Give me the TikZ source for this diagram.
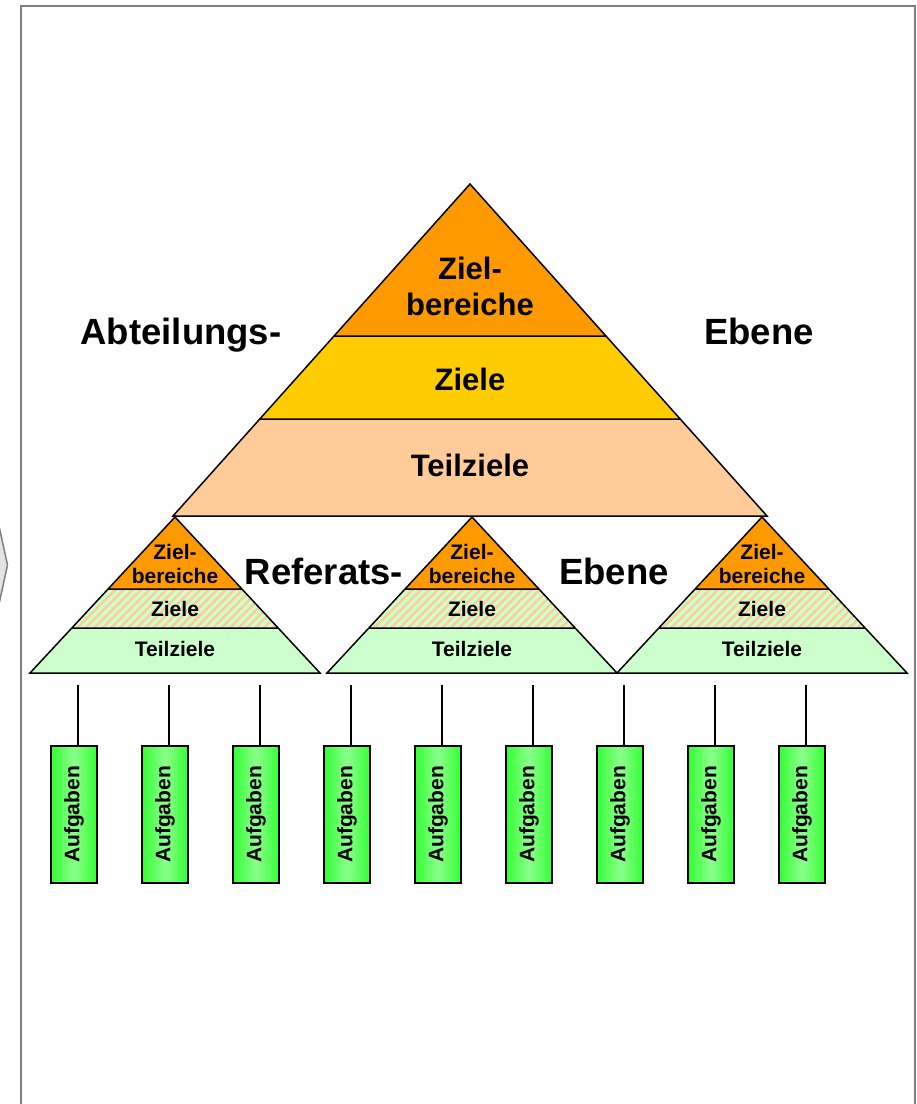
\documentclass[tikz,border=0pt]{standalone}
\usepackage{fontspec}
\setmainfont{Liberation Sans}
\usetikzlibrary{positioning,patterns.meta}
\definecolor{zielorange}{RGB}{255,153,0}
\definecolor{zielgelb}{RGB}{255,204,0}
\definecolor{teilpfirsich}{RGB}{255,204,153}
\definecolor{teilgruen}{RGB}{204,255,204}
\definecolor{aufgruen}{RGB}{51,255,51}
\definecolor{aufhell}{RGB}{140,255,140}
\definecolor{rahmengrau}{RGB}{128,128,128}
\tikzset{
	outline/.style={draw=black, line width=1.5pt, line join=miter},
	streifen/.style={
		fill=teilgruen,
		postaction={pattern={Lines[angle=45,distance=6pt,line width=2.5pt]}, pattern color=teilpfirsich}
	},
	bigtext/.style={font=\fontsize{31}{36}\selectfont\bfseries, align=center},
	smalltext/.style={font=\fontsize{21}{24}\selectfont\bfseries, align=center},
	ebene/.style={font=\fontsize{36.5}{40}\selectfont\bfseries, anchor=base},
	aufgabe/.style={
		draw=black, line width=1.5pt, outer sep=0pt, inner sep=0pt,
		minimum width=46pt, minimum height=137pt,
		left color=aufgruen, right color=aufgruen, middle color=aufhell,
		font=\fontsize{21}{24}\selectfont\bfseries
	},
	haenger/.style={draw=black, line width=1.5pt},
	smallpyramid/.pic={
		\fill[zielorange] (0,0) -- (-67,72) -- (67,72) -- cycle;
		\fill[streifen] (-67,72) -- (-103,111) -- (103,111) -- (67,72) -- cycle;
		\fill[teilgruen] (-103,111) -- (-145,156) -- (145,156) -- (103,111) -- cycle;
		\draw[outline] (0,0) -- (-145,156) -- (145,156) -- cycle
			(-67,72) -- (67,72) (-103,111) -- (103,111);
		\node[smalltext] (-top) at (0,47) {Ziel-\\bereiche};
		\node[smalltext] (-mid) at (0,92) {Ziele};
		\node[smalltext] (-low) at (0,132) {Teilziele};
	}
}

\begin{document}
\begin{tikzpicture}[x=1pt, y=-1pt, node distance=45pt]
	\useasboundingbox (0,0) rectangle (917,1104);
	% frame and side tab
	\filldraw[fill=gray!22, draw=rahmengrau, line width=1.5pt] (-4,512) -- (7.5,565) -- (-4,618) -- cycle;
	\draw[rahmengrau, line width=2pt] (21,1110) -- (21,6) -- (915,6) -- (915,1110);
	% Abteilungs-Ebene
	\fill[zielorange] (470,184) -- (334,336) -- (606,336) -- cycle;
	\fill[zielgelb] (334,336) -- (260,419) -- (680,419) -- (606,336) -- cycle;
	\fill[teilpfirsich] (260,419) -- (173,516) -- (767,516) -- (680,419) -- cycle;
	\draw[outline] (470,184) -- (173,516) -- (767,516) -- cycle
		(334,336) -- (606,336) (260,419) -- (680,419);
	\node[bigtext] (Zb) at (470,286) {Ziel-\\bereiche};
	\node[bigtext] (Zl) at (470,379) {Ziele};
	\node[bigtext] (Tz) at (470,465) {Teilziele};
	\node[ebene] (abt) at (181,344) {Abteilungs-};
	\node[ebene] (abtE) at (759,344) {Ebene};
	% Referats-Ebene
	\pic (R1) at (175,517) {smallpyramid};
	\pic (R2) at (472,517) {smallpyramid};
	\pic (R3) at (762,517) {smallpyramid};
	\node[ebene] (ref) at (324,584) {Referats-};
	\node[ebene] (refE) at (614,584) {Ebene};
	% Aufgaben
	\node[aufgabe] (A1) at (74,814.5) {\rotatebox{90}{Aufgaben}};
	\node[aufgabe] (A2) [right=of A1] {\rotatebox{90}{Aufgaben}};
	\node[aufgabe] (A3) [right=of A2] {\rotatebox{90}{Aufgaben}};
	\node[aufgabe] (A4) [right=of A3] {\rotatebox{90}{Aufgaben}};
	\node[aufgabe] (A5) [right=of A4] {\rotatebox{90}{Aufgaben}};
	\node[aufgabe] (A6) [right=of A5] {\rotatebox{90}{Aufgaben}};
	\node[aufgabe] (A7) [right=of A6] {\rotatebox{90}{Aufgaben}};
	\node[aufgabe] (A8) [right=of A7] {\rotatebox{90}{Aufgaben}};
	\node[aufgabe] (A9) [right=of A8] {\rotatebox{90}{Aufgaben}};
	\coordinate (o1) at (78,685);
	\coordinate (o2) at (169,685);
	\coordinate (o3) at (260,685);
	\coordinate (o4) at (351,685);
	\coordinate (o5) at (442,685);
	\coordinate (o6) at (533,685);
	\coordinate (o7) at (624,685);
	\coordinate (o8) at (715,685);
	\coordinate (o9) at (806,685);
	\draw[haenger] (o1) -- ([xshift=4pt]A1.north);
	\draw[haenger] (o2) -- ([xshift=4pt]A2.north);
	\draw[haenger] (o3) -- ([xshift=4pt]A3.north);
	\draw[haenger] (o4) -- ([xshift=4pt]A4.north);
	\draw[haenger] (o5) -- ([xshift=4pt]A5.north);
	\draw[haenger] (o6) -- ([xshift=4pt]A6.north);
	\draw[haenger] (o7) -- ([xshift=4pt]A7.north);
	\draw[haenger] (o8) -- ([xshift=4pt]A8.north);
	\draw[haenger] (o9) -- ([xshift=4pt]A9.north);
\end{tikzpicture}
\end{document}
